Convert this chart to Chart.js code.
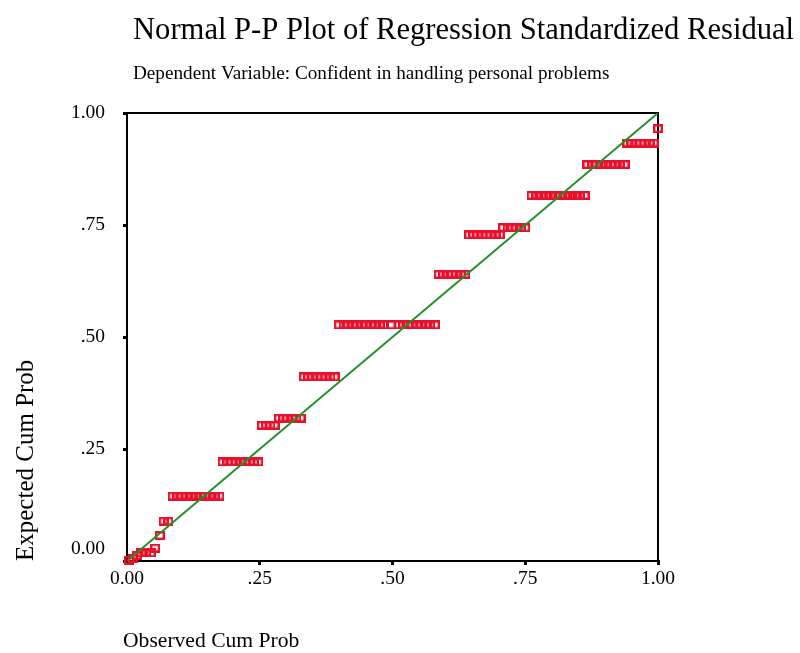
<!DOCTYPE html>
<html>
<head>
<meta charset="utf-8">
<script src="https://cdn.jsdelivr.net/npm/chart.js@4"></script>
<style>
  html, body { margin: 0; padding: 0; background: #fff; }
  #wrap { position: relative; width: 800px; height: 653px; }
</style>
</head>
<body>
<div id="wrap"><canvas id="c"></canvas></div>
<script>
// ---- Data ----
const chartTitle = "Normal P-P Plot of Regression Standardized Residual";
const chartSubtitle = "Dependent Variable: Confident in handling personal problems";
const xAxisTitle = "Observed Cum Prob";
const yAxisTitle = "Expected Cum Prob";

const tickValues = [0, 0.25, 0.5, 0.75, 1];
const xTickLabels = ["0.00", ".25", ".50", ".75", "1.00"];
const yTickLabels = ["0.00", ".25", ".50", ".75", "1.00"];

// Expected cum prob level of each run of points
const expectedLevels = [0.002, 0.006, 0.012, 0.018, 0.029, 0.057, 0.089, 0.145, 0.221, 0.303,
                        0.319, 0.411, 0.527, 0.640, 0.728, 0.744, 0.816, 0.885, 0.933, 0.965];
// Observed cum prob of the points in each run
const observedRuns = [
  [0.004],
  [0.011],
  [0.019],
  [0.027, 0.036, 0.045],
  [0.053],
  [0.062],
  [0.069, 0.078],
  [0.086, 0.095, 0.103, 0.112, 0.121, 0.130, 0.139, 0.147, 0.156, 0.165, 0.174],
  [0.180, 0.189, 0.197, 0.205, 0.214, 0.222, 0.231, 0.239, 0.247],
  [0.254, 0.262, 0.270, 0.278],
  [0.286, 0.294, 0.302, 0.311, 0.319, 0.327],
  [0.333, 0.341, 0.349, 0.358, 0.366, 0.374, 0.383, 0.391],
  [0.399, 0.408, 0.416, 0.425, 0.433, 0.442, 0.450, 0.459, 0.467, 0.476, 0.484,
   0.497, 0.512, 0.520, 0.529, 0.537, 0.546, 0.554, 0.563, 0.571, 0.580],
  [0.587, 0.595, 0.604, 0.612, 0.620, 0.629, 0.637],
  [0.644, 0.652, 0.660, 0.669, 0.677, 0.685, 0.694, 0.702],
  [0.708, 0.717, 0.725, 0.733, 0.742, 0.750],
  [0.762, 0.771, 0.780, 0.789, 0.798, 0.807, 0.816, 0.825, 0.834, 0.844, 0.853, 0.862],
  [0.867, 0.876, 0.884, 0.893, 0.902, 0.911, 0.919, 0.928, 0.937],
  [0.942, 0.950, 0.959, 0.967, 0.975, 0.984, 0.992],
  [1.000]
];
const referenceLine = [[0, 0], [1, 1]];

// ---- Build chart ----
const points = [];
observedRuns.forEach((run, i) => run.forEach(x => points.push({ x: x, y: expectedLevels[i] })));

const RED = '#e8102c';
const GREEN = '#1f9127';
const SERIF = "'Liberation Serif', 'Times New Roman', serif";

// hollow rectangle marker
const marker = document.createElement('canvas');
marker.width = 10; marker.height = 9;
(function () {
  const m = marker.getContext('2d');
  m.strokeStyle = RED;
  m.lineWidth = 2.4;
  m.strokeRect(1.2, 1.2, 7.6, 6.6);
})();

const framePlugin = {
  id: 'frame',
  beforeDatasetsDraw(chart) {
    const { ctx, chartArea: a } = chart;
    ctx.save();
    ctx.strokeStyle = '#000';
    ctx.lineWidth = 2;
    ctx.strokeRect(a.left, a.top, a.right - a.left, a.bottom - a.top);
    ctx.restore();
  },
  afterDraw(chart) {
    const { ctx } = chart;
    ctx.save();
    ctx.fillStyle = '#000';
    ctx.textBaseline = 'middle';
    ctx.textAlign = 'left';
    ctx.font = `30.6px ${SERIF}`;
    ctx.fillText(chartTitle, 133, 31);
    ctx.font = `19.2px ${SERIF}`;
    ctx.fillText(chartSubtitle, 133, 74);
    ctx.font = `21.6px ${SERIF}`;
    ctx.fillText(xAxisTitle, 123, 641);
    ctx.font = `25px ${SERIF}`;
    ctx.translate(26, 561);
    ctx.rotate(-Math.PI / 2);
    ctx.fillText(yAxisTitle, 0, 0);
    ctx.restore();
  }
};

const tickFont = { family: SERIF, size: 19.5 };

new Chart(document.getElementById('c'), {
  type: 'scatter',
  data: {
    datasets: [
      {
        type: 'line',
        data: referenceLine.map(p => ({ x: p[0], y: p[1] })),
        borderColor: GREEN,
        borderWidth: 2,
        pointRadius: 0,
        fill: false,
        tension: 0
      },
      {
        data: points,
        pointStyle: marker,
        pointRadius: 5,
        clip: false
      }
    ]
  },
  options: {
    responsive: true,
    maintainAspectRatio: false,
    animation: false,
    events: [],
    layout: { padding: { left: 0, top: 113, right: 142, bottom: 52 } },
    plugins: { legend: { display: false }, tooltip: { enabled: false } },
    scales: {
      x: {
        type: 'linear', min: 0, max: 1,
        afterBuildTicks: s => { s.ticks = tickValues.map(v => ({ value: v })); },
        afterFit: s => { s.height = 40; },
        ticks: {
          callback: (v, i) => xTickLabels[i],
          font: tickFont, color: '#000', padding: 2, maxRotation: 0
        },
        grid: { display: true, drawOnChartArea: false, drawTicks: true, tickLength: 4, lineWidth: 3, color: '#000' },
        border: { display: true, color: '#000', width: 2 }
      },
      y: {
        type: 'linear', min: 0, max: 1,
        afterBuildTicks: s => { s.ticks = tickValues.map(v => ({ value: v })); },
        afterFit: s => { s.width = 127; },
        ticks: {
          callback: (v, i) => (i === 0 ? [yTickLabels[i], ''] : yTickLabels[i]),
          font: tickFont, color: '#000', padding: 18
        },
        grid: { display: true, drawOnChartArea: false, drawTicks: true, tickLength: 4, lineWidth: 3, color: '#000' },
        border: { display: true, color: '#000', width: 2 }
      }
    }
  },
  plugins: [framePlugin]
});
</script>
</body>
</html>
